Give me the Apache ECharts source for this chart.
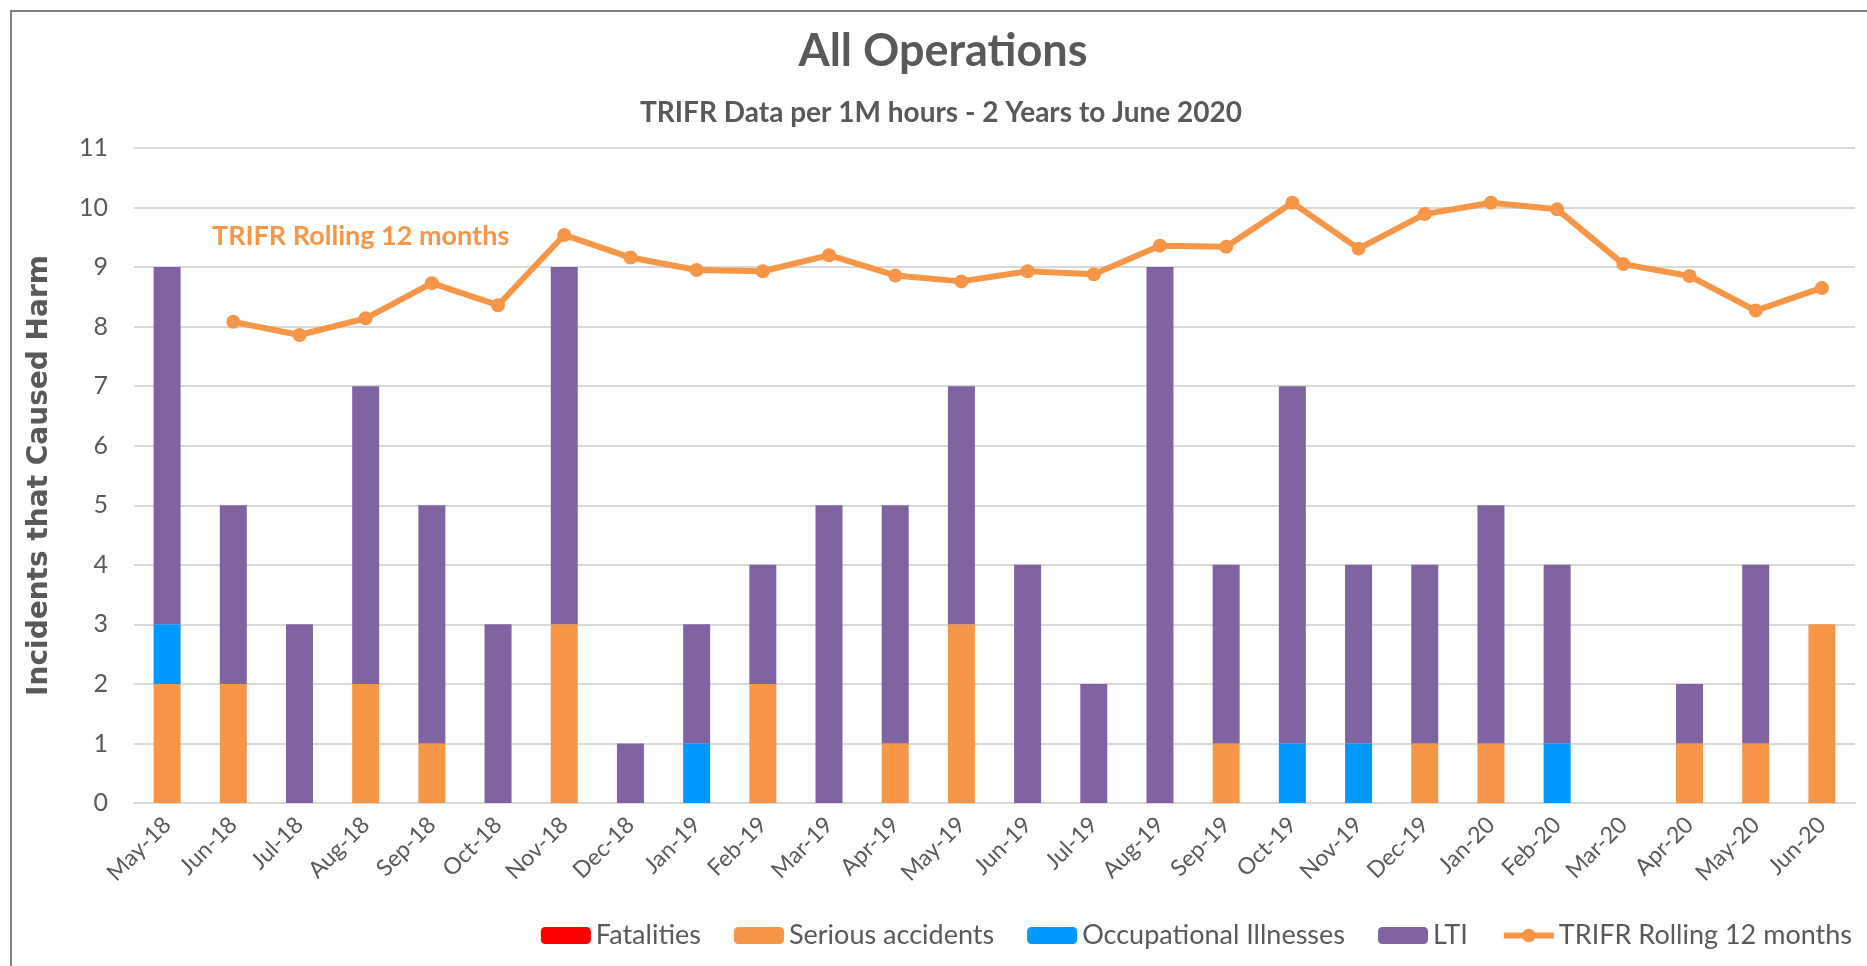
<!DOCTYPE html>
<html>
<head>
<meta charset="utf-8">
<title>All Operations</title>
<script src="https://cdn.jsdelivr.net/npm/echarts@6/dist/echarts.min.js"></script>
<style>
  html, body { margin: 0; padding: 0; background: #fff; }
  #chart { width: 1867px; height: 966px; }
</style>
</head>
<body>
<div id="chart"></div>
<script>
// months on the x axis
var months = ['May-18', 'Jun-18', 'Jul-18', 'Aug-18', 'Sep-18', 'Oct-18', 'Nov-18', 'Dec-18',
  'Jan-19', 'Feb-19', 'Mar-19', 'Apr-19', 'May-19', 'Jun-19', 'Jul-19', 'Aug-19', 'Sep-19',
  'Oct-19', 'Nov-19', 'Dec-19', 'Jan-20', 'Feb-20', 'Mar-20', 'Apr-20', 'May-20', 'Jun-20'];

// stacked incident counts
var fatalities   = [0, 0, 0, 0, 0, 0, 0, 0, 0, 0, 0, 0, 0, 0, 0, 0, 0, 0, 0, 0, 0, 0, 0, 0, 0, 0];
var seriousAcc   = [2, 2, 0, 2, 1, 0, 3, 0, 0, 2, 0, 1, 3, 0, 0, 0, 1, 0, 0, 1, 1, 0, 0, 1, 1, 3];
var occIllnesses = [1, 0, 0, 0, 0, 0, 0, 0, 1, 0, 0, 0, 0, 0, 0, 0, 0, 1, 1, 0, 0, 1, 0, 0, 0, 0];
var lti          = [6, 3, 3, 5, 4, 3, 6, 1, 2, 2, 5, 4, 4, 4, 2, 9, 3, 6, 3, 3, 4, 3, 0, 1, 3, 0];

// TRIFR rolling 12 months (no value for the first month)
var trifr = ['-', 8.08, 7.86, 8.14, 8.73, 8.36, 9.54, 9.16, 8.95, 8.93, 9.2, 8.86, 8.76,
  8.93, 8.88, 9.36, 9.34, 10.08, 9.31, 9.89, 10.08, 9.97, 9.05, 8.85, 8.27, 8.65];

var yTicks = { min: 0, max: 11, interval: 1 };

var txt = '#595959';
var orange = '#F79646';
var font = 'Lato';

var myChart = echarts.init(document.getElementById('chart'), null, { renderer: 'canvas' });

function barSeries(name, data, color) {
  return {
    name: name,
    type: 'bar',
    stack: 'harm',
    barWidth: 27,
    data: data,
    itemStyle: { color: color }
  };
}

myChart.setOption({
  animation: false,
  backgroundColor: '#fff',
  title: [
    {
      text: 'All Operations',
      left: 938, top: 24, textAlign: 'center',
      textStyle: { fontFamily: font, fontSize: 45, fontWeight: 'bold', color: txt }
    },
    {
      text: 'TRIFR Data per 1M hours - 2 Years to June 2020',
      left: 936, top: 94, textAlign: 'center',
      textStyle: { fontFamily: font, fontSize: 28, fontWeight: 'bold', color: txt }
    }
  ],
  graphic: [
    {
      type: 'rect', silent: true, z: -1,
      shape: { x: 11, y: 11, width: 1900, height: 1000 },
      style: { fill: 'none', stroke: '#808080', lineWidth: 2 }
    },
    {
      type: 'text', left: 212, top: 223,
      style: { text: 'TRIFR Rolling 12 months', fill: orange,
        font: 'bold 27px Lato' }
    }
  ],
  legend: {
    right: 10, top: 917,
    itemWidth: 50, itemHeight: 17, itemGap: 33,
    textStyle: { fontFamily: font, fontSize: 27, color: txt },
    data: ['Fatalities', 'Serious accidents', 'Occupational Illnesses', 'LTI',
      { name: 'TRIFR Rolling 12 months', lineStyle: { width: 6 }, itemStyle: { color: orange } }]
  },
  grid: { left: 134, right: 12, top: 148, bottom: 163 },
  xAxis: {
    type: 'category',
    data: months,
    axisLine: { lineStyle: { color: '#D9D9D9', width: 2 } },
    axisTick: { show: false },
    axisLabel: { rotate: 45, margin: 18, fontFamily: font, fontSize: 23, color: txt, interval: 0 }
  },
  yAxis: {
    type: 'value',
    min: yTicks.min, max: yTicks.max, interval: yTicks.interval,
    name: 'Incidents that Caused Harm',
    nameLocation: 'middle', nameGap: 80, nameRotate: 90,
    nameTextStyle: { fontFamily: 'DejaVu Sans', fontSize: 28, fontWeight: 'bold', color: txt },
    axisLine: { show: false },
    axisTick: { show: false },
    axisLabel: { fontFamily: font, fontSize: 25, color: txt, margin: 26 },
    splitLine: { lineStyle: { color: '#D9D9D9', width: 2 } }
  },
  series: [
    barSeries('Fatalities', fatalities, '#FF0000'),
    barSeries('Serious accidents', seriousAcc, orange),
    barSeries('Occupational Illnesses', occIllnesses, '#0099FF'),
    barSeries('LTI', lti, '#8064A2'),
    {
      name: 'TRIFR Rolling 12 months',
      type: 'line',
      data: trifr,
      z: 5,
      symbol: 'circle',
      symbolSize: 14,
      lineStyle: { color: orange, width: 6 },
      itemStyle: { color: orange }
    }
  ]
});
</script>
</body>
</html>
